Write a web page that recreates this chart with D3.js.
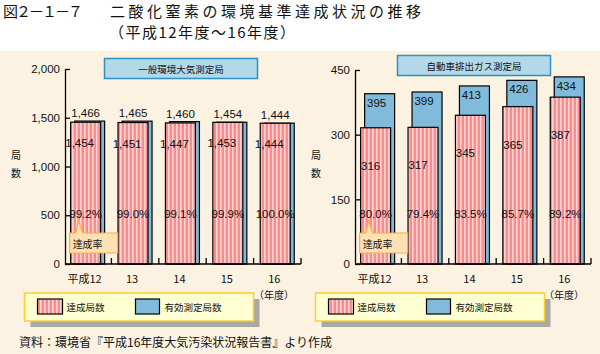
<!DOCTYPE html>
<html>
<head>
<meta charset="utf-8">
<style>
  body { margin: 0; background: #fff; }
  svg text { font-family: "Liberation Sans", "Noto Sans CJK JP", sans-serif; fill: #111; }
  .jp { font-family: "Noto Sans CJK JP", sans-serif; }
</style>
</head>
<body>
<script src="https://cdn.jsdelivr.net/npm/d3@7"></script>
<script>
// データ
var years = ["平成12", "13", "14", "15", "16"];
var genAchieved = [1454, 1451, 1447, 1453, 1444];   // 一般局 達成局数
var genValid    = [1466, 1465, 1460, 1454, 1444];   // 一般局 有効測定局数
var genRate     = ["99.2%", "99.0%", "99.1%", "99.9%", "100.0%"];
var genTicks    = [0, 500, 1000, 1500, 2000];

var autoAchieved = [316, 317, 345, 365, 387];       // 自排局 達成局数
var autoValid    = [395, 399, 413, 426, 434];       // 自排局 有効測定局数
var autoRate     = ["80.0%", "79.4%", "83.5%", "85.7%", "89.2%"];
var autoTicks    = [0, 150, 300, 450];

var width = 600, height = 354;
var svg = d3.select("body").append("svg")
    .attr("width", width)
    .attr("height", height);

// 背景
svg.append("rect").attr("x", 0).attr("y", 51).attr("width", width).attr("height", height - 51)
    .attr("fill", "#fcf2e2");

// ストライプ模様
var defs = svg.append("defs");
var pat = defs.append("pattern").attr("id", "stripe")
    .attr("width", 4).attr("height", 10).attr("patternUnits", "userSpaceOnUse");
pat.append("rect").attr("width", 4).attr("height", 10).attr("fill", "#ff8a8c");
pat.append("rect").attr("width", 1.6).attr("height", 10).attr("fill", "#ffd2d2");

var blue = "#80bbdb";

// タイトル
svg.append("text").attr("class", "jp").attr("x", 3).attr("y", 17)
    .attr("font-size", 15).attr("textLength", 80).attr("lengthAdjust", "spacing")
    .text("図２－１－７");
svg.append("text").attr("class", "jp").attr("x", 110).attr("y", 17)
    .attr("font-size", 15).attr("textLength", 311).attr("lengthAdjust", "spacing")
    .text("二酸化窒素の環境基準達成状況の推移");
svg.append("text").attr("class", "jp").attr("x", 109).attr("y", 38)
    .attr("font-size", 15).attr("textLength", 186).attr("lengthAdjust", "spacing")
    .text("（平成12年度～16年度）");

function panel(o) {
  var g = svg.append("g");
  var x = d3.scaleBand().domain(years)
      .range([o.x0 - 1, o.x0 + 236]).paddingInner(0.28).paddingOuter(0.14);
  var y = d3.scaleLinear().domain([0, o.max]).range([264, o.top]);
  var bw = 30;
  var step = x.step();

  // 見出しボックス
  g.append("rect").attr("x", o.boxX).attr("y", o.boxY).attr("width", 153).attr("height", 20)
      .attr("fill", "#b3d8e8").attr("stroke", "#2b93c4").attr("stroke-width", 1.5);
  g.append("text").attr("class", "jp").attr("x", o.boxX + 76.5).attr("y", o.boxY + 14)
      .attr("text-anchor", "middle").attr("font-size", 9.5).text(o.title);

  // 有効測定局数（後ろ）
  g.selectAll(".valid").data(o.valid).join("rect")
      .attr("x", (d, i) => x(years[i]) + 4)
      .attr("y", d => y(d))
      .attr("width", bw)
      .attr("height", d => 264 - y(d))
      .attr("fill", blue).attr("stroke", "#000").attr("stroke-width", 1.2);

  // 達成局数（前）
  g.selectAll(".ach").data(o.achieved).join("rect")
      .attr("x", (d, i) => x(years[i]))
      .attr("y", d => y(d))
      .attr("width", bw)
      .attr("height", d => 264 - y(d))
      .attr("fill", "url(#stripe)").attr("stroke", "#000").attr("stroke-width", 1.2);

  // 数値ラベル
  g.selectAll(".vlab").data(o.valid).join("text")
      .attr("x", (d, i) => x(years[i]) + o.vdx)
      .attr("y", d => y(d) + o.vdy)
      .attr("text-anchor", "middle").attr("font-size", 11.5)
      .text(d => d3.format(",")(d));
  g.selectAll(".alab").data(o.achieved).join("text")
      .attr("x", (d, i) => x(years[i]) + o.adx)
      .attr("y", d => y(d) + o.ady)
      .attr("text-anchor", "middle").attr("font-size", 11.5)
      .text(d => d3.format(",")(d));
  g.selectAll(".rlab").data(o.rate).join("text")
      .attr("x", (d, i) => x(years[i]) + 15)
      .attr("y", 218)
      .attr("text-anchor", "middle").attr("font-size", 11.5)
      .text(d => d);

  // 縦軸
  var ya = g.append("g").attr("transform", "translate(" + o.x0 + ",0)")
      .call(d3.axisLeft(y).tickValues(o.ticks).tickSize(-5).tickSizeOuter(0).tickPadding(5)
            .tickFormat(d3.format(",")));
  ya.selectAll("path, line").attr("stroke", "#000").attr("stroke-width", 1.3);
  ya.selectAll("text").attr("font-size", 11.5).attr("font-family", "Liberation Sans");

  // 横軸
  g.append("line").attr("x1", o.x0).attr("x2", o.x0 + 236).attr("y1", 264).attr("y2", 264)
      .attr("stroke", "#000").attr("stroke-width", 1.3);
  g.selectAll(".xt").data(years).join("line")
      .attr("x1", d => x(d) + x.bandwidth() + step * 0.14)
      .attr("x2", d => x(d) + x.bandwidth() + step * 0.14)
      .attr("y1", 264).attr("y2", 258)
      .attr("stroke", "#000").attr("stroke-width", 1.3);
  g.selectAll(".xl").data(years).join("text")
      .attr("class", "jp")
      .attr("x", d => x(d) + 14).attr("y", 283)
      .attr("text-anchor", "middle").attr("font-size", 11)
      .text(d => d);
  g.append("text").attr("class", "jp").attr("x", o.x0 + 229).attr("y", 299)
      .attr("text-anchor", "end").attr("font-size", 10).text("（年度）");

  // 軸ラベル
  g.append("text").attr("class", "jp").attr("x", o.labX).attr("y", 159)
      .attr("text-anchor", "middle").attr("font-size", 10).text("局");
  g.append("text").attr("class", "jp").attr("x", o.labX).attr("y", 177)
      .attr("text-anchor", "middle").attr("font-size", 10).text("数");

  // 達成率の吹き出し
  var bx = x(years[0]) - 1, px = x(years[0]) + 8;
  g.append("path")
      .attr("d", "M" + bx + ",233 L" + (px - 3) + ",233 L" + px + ",221 L" + (px + 4) + ",233 L" +
            (bx + 48) + ",233 L" + (bx + 48) + ",253 L" + bx + ",253 Z")
      .attr("fill", "#ffe1b4").attr("stroke", "#ffab40").attr("stroke-width", 1.2);
  g.append("text").attr("class", "jp").attr("x", bx + 3).attr("y", 248)
      .attr("font-size", 10).text("達成率");

  // 凡例
  var lx = o.legX;
  g.append("rect").attr("x", lx + 6).attr("y", 299).attr("width", 229).attr("height", 28)
      .attr("fill", "#aaa9a4");
  g.append("rect").attr("x", lx).attr("y", 293).attr("width", 229).attr("height", 28)
      .attr("fill", "#ffffd2").attr("stroke", "#ffcc33").attr("stroke-width", 1.5);
  g.append("rect").attr("x", lx + 13).attr("y", 299).attr("width", 25).attr("height", 15)
      .attr("fill", "url(#stripe)").attr("stroke", "#000").attr("stroke-width", 1.2);
  g.append("text").attr("class", "jp").attr("x", lx + 42).attr("y", 311)
      .attr("font-size", 9.5).text("達成局数");
  g.append("rect").attr("x", lx + 111).attr("y", 299).attr("width", 24).attr("height", 15)
      .attr("fill", blue).attr("stroke", "#000").attr("stroke-width", 1.2);
  g.append("text").attr("class", "jp").attr("x", lx + 140).attr("y", 311)
      .attr("font-size", 9.5).text("有効測定局数");
}

panel({
  x0: 65, top: 69, max: 2000, ticks: genTicks,
  achieved: genAchieved, valid: genValid, rate: genRate,
  title: "一般環境大気測定局", boxX: 104.5, boxY: 58.5,
  vdx: 15, vdy: -4, adx: 9, ady: 25,
  legX: 24.5, labX: 16
});
panel({
  x0: 355, top: 70, max: 450, ticks: autoTicks,
  achieved: autoAchieved, valid: autoValid, rate: autoRate,
  title: "自動車排出ガス測定局", boxX: 397.5, boxY: 55.5,
  vdx: 16, vdy: 13, adx: 10, ady: 42,
  legX: 315.5, labX: 316
});

// 出典
svg.append("text").attr("class", "jp").attr("x", 19).attr("y", 347)
    .attr("font-size", 12).text("資料：環境省『平成16年度大気汚染状況報告書』より作成");
</script>
</body>
</html>
